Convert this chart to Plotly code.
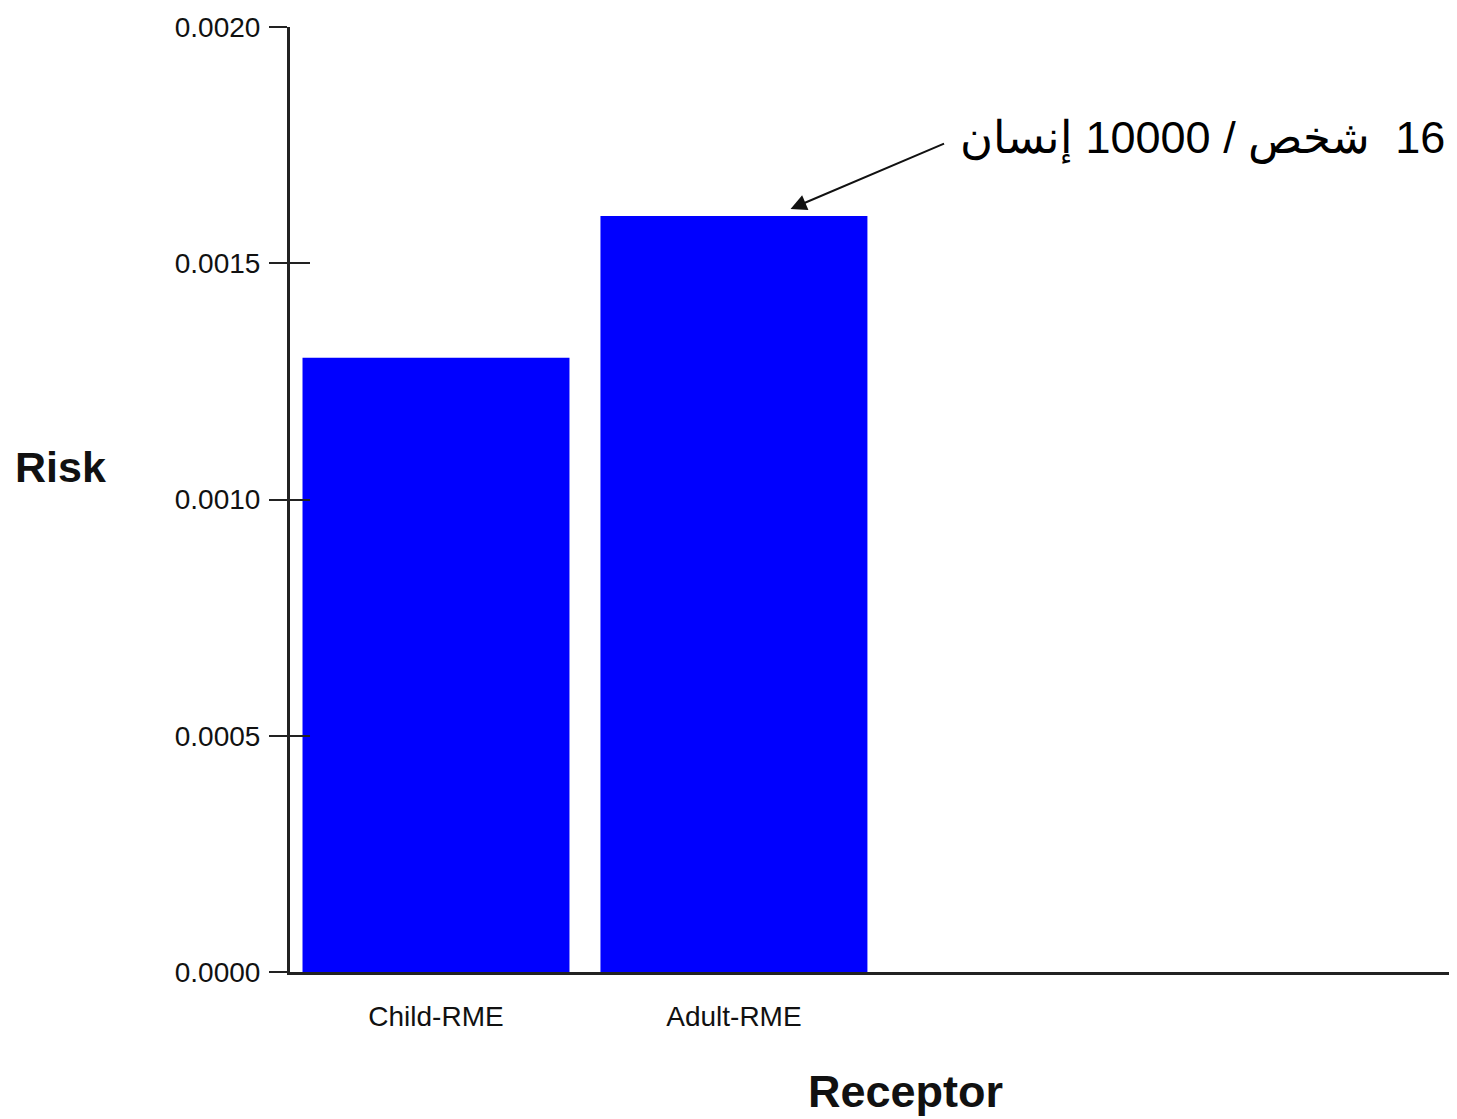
import plotly.graph_objects as go

categories = ["Child-RME", "Adult-RME"]
risk_values = [0.0013, 0.0016]
y_ticks = [0.0, 0.0005, 0.0010, 0.0015, 0.0020]
y_tick_labels = ["0.0000", "0.0005", "0.0010", "0.0015", "0.0020"]
annotation_text = "\u202B16  شخص / 10000 إنسان\u202C"

# page body has an 8px margin; compensate so the chart lands where the reference has it
OFF = 8
W, H = 1457 - OFF, 1119 - OFF
ML, MR, MT, MB = 290 - OFF, 5, 27 - OFF, 147
PW, PH = W - ML - MR, H - MT - MB

def px_x(px):  # reference pixel -> paper x
    return (px - 290) / PW

def px_y(py):  # reference pixel -> paper y
    return (972 - py) / PH

fig = go.Figure()
fig.add_trace(go.Bar(
    x=categories, y=risk_values,
    marker=dict(color="#0000FF", line=dict(width=0)),
    showlegend=False,
))
# invisible helper trace so the overlay axis (inside tick marks) gets drawn
fig.add_trace(go.Scatter(
    x=categories, y=risk_values, yaxis="y2", mode="markers",
    marker=dict(opacity=0, size=1), hoverinfo="skip", showlegend=False,
))

axis_font = dict(family="Liberation Sans, Arial, sans-serif", size=28, color="#111111")

fig.update_layout(
    width=W, height=H,
    margin=dict(l=ML, r=MR, t=MT, b=MB, pad=0),
    paper_bgcolor="white", plot_bgcolor="white",
    bargap=0.104,
    xaxis=dict(
        type="category", range=[-0.49, 3.41],
        showline=True, linecolor="#222222", linewidth=3,
        showgrid=False, zeroline=False,
        ticks="outside", ticklen=17, tickcolor="rgba(0,0,0,0)",
        tickfont=axis_font,
    ),
    yaxis=dict(
        range=[0, 0.002],
        tickvals=y_ticks, ticktext=y_tick_labels,
        showline=True, linecolor="#222222", linewidth=3,
        showgrid=False, zeroline=False,
        ticks="outside", ticklen=18, tickwidth=2, tickcolor="#222222",
        tickfont=axis_font,
        ticklabelstandoff=3,
    ),
    yaxis2=dict(
        overlaying="y", side="left", anchor="x",
        range=[0, 0.002], tickvals=y_ticks,
        showticklabels=False, showline=False, showgrid=False, zeroline=False,
        ticks="inside", ticklen=20, tickwidth=2, tickcolor="#222222",
    ),
)

# Axis titles (horizontal)
fig.add_annotation(
    text="<b>Risk</b>", xref="paper", yref="paper",
    x=px_x(60), y=px_y(467),
    showarrow=False, xanchor="center", yanchor="middle",
    font=dict(family="Liberation Sans, Arial, sans-serif", size=43, color="#111111"),
)
fig.add_annotation(
    text="<b>Receptor</b>", xref="paper", yref="paper",
    x=px_x(905), y=px_y(1091),
    showarrow=False, xanchor="center", yanchor="middle",
    font=dict(family="Liberation Sans, Arial, sans-serif", size=45, color="#111111"),
)

# Arrow pointing to the Adult-RME bar
fig.add_annotation(
    text="", x=1.19, y=risk_values[1] + 0.000015, xref="x", yref="y",
    showarrow=True, arrowhead=2, arrowsize=1.6, arrowwidth=2, arrowcolor="#111111",
    ax=155, ay=-66,
)
# Arabic label
fig.add_annotation(
    text=annotation_text, xref="paper", yref="paper",
    x=px_x(1447), y=px_y(138),
    showarrow=False, xanchor="right", yanchor="middle",
    font=dict(family="Liberation Sans, Arial, sans-serif", size=45, color="#000000"),
)

fig.write_html("out.html")
